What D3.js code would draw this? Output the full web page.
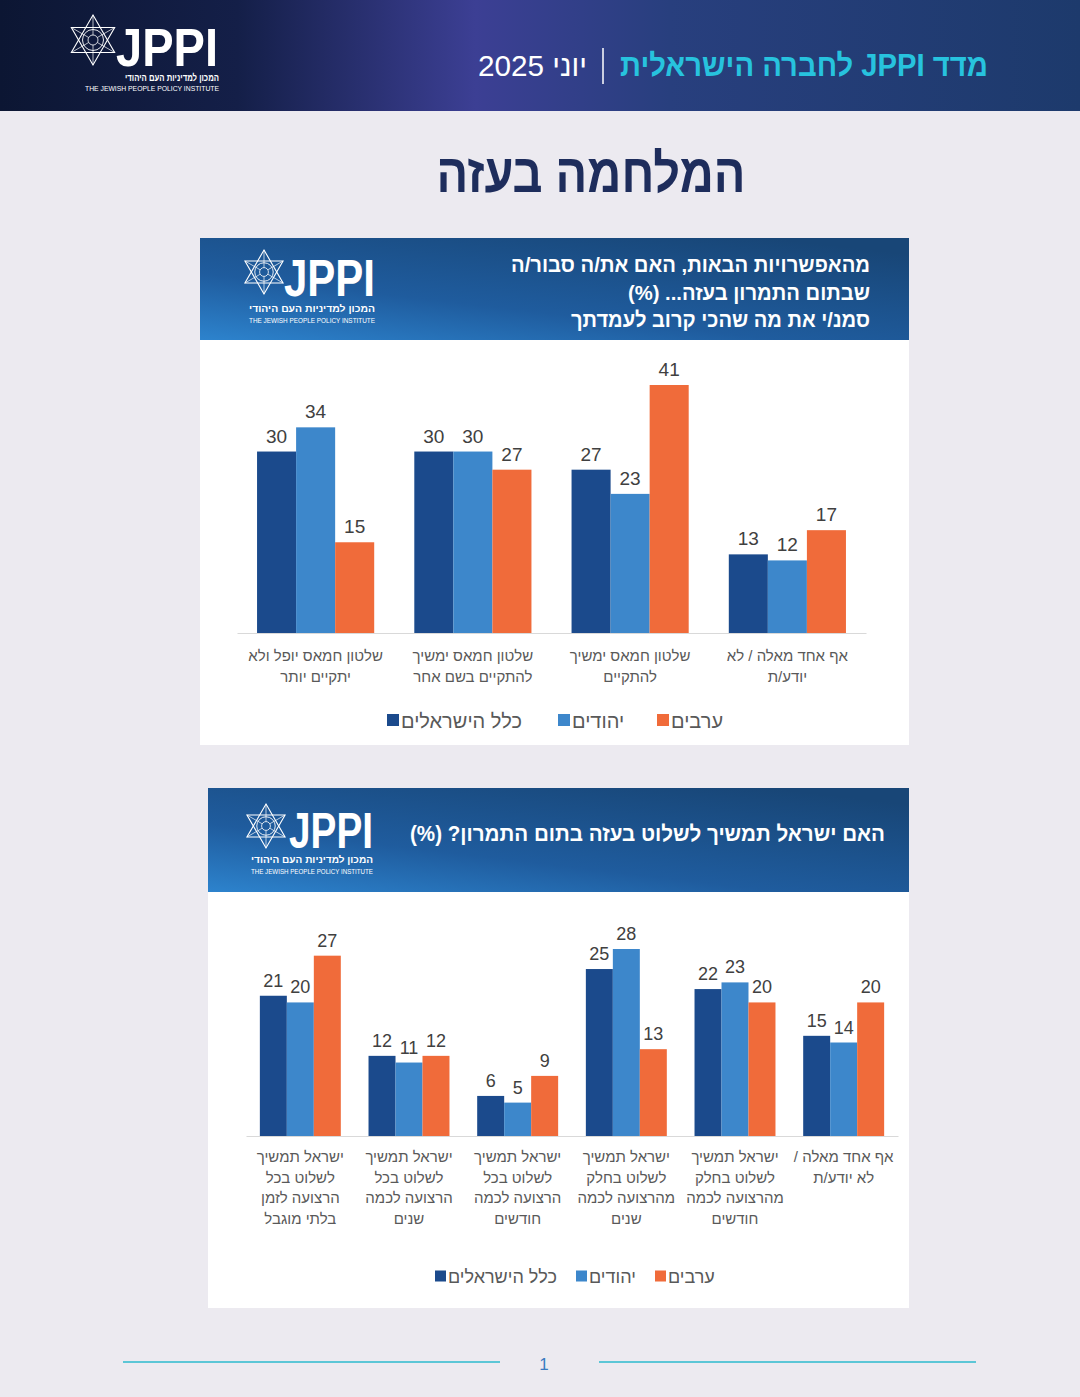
<!DOCTYPE html>
<html>
<head>
<meta charset="utf-8">
<script src="https://cdn.jsdelivr.net/npm/d3@7"></script>
<style>
  body { margin: 0; background: #ECEAF0; }
  svg { display: block; }
  text { font-family: "Liberation Sans", "DejaVu Sans", sans-serif; }
</style>
</head>
<body>
<div id="content"></div>
<script>
// series (left to right inside each group)
var seriesNames = ["כלל הישראלים", "יהודים", "ערבים"];
var seriesColors = ["#1B4A8C", "#3D87CB", "#F06B3A"];

// chart 1 - categories in reading order (right to left)
var cat1 = [
  ["אף אחד מאלה / לא", "יודע/ת"],
  ["שלטון חמאס ימשיך", "להתקיים"],
  ["שלטון חמאס ימשיך", "להתקיים בשם אחר"],
  ["שלטון חמאס יופל ולא", "יתקיים יותר"]
];
var all1 = [13, 27, 30, 30];
var jews1 = [12, 23, 30, 34];
var arabs1 = [17, 41, 27, 15];

// chart 2 - categories in reading order (right to left)
var cat2 = [
  ["אף אחד מאלה /", "לא יודע/ת"],
  ["ישראל תמשיך", "לשלוט בחלק", "מהרצועה לכמה", "חודשים"],
  ["ישראל תמשיך", "לשלוט בחלק", "מהרצועה לכמה", "שנים"],
  ["ישראל תמשיך", "לשלוט בכל", "הרצועה לכמה", "חודשים"],
  ["ישראל תמשיך", "לשלוט בכל", "הרצועה לכמה", "שנים"],
  ["ישראל תמשיך", "לשלוט בכל", "הרצועה לזמן", "בלתי מוגבל"]
];
var all2 = [15, 22, 25, 6, 12, 21];
var jews2 = [14, 23, 28, 5, 11, 20];
var arabs2 = [20, 20, 13, 9, 12, 27];

var width = 1080, height = 1397;

var svg = d3.select("#content").append("svg")
  .attr("width", width)
  .attr("height", height);

var defs = svg.append("defs");

var topGrad = defs.append("linearGradient").attr("id", "topGrad");
topGrad.append("stop").attr("offset", "0%").attr("stop-color", "#0C1633");
topGrad.append("stop").attr("offset", "22%").attr("stop-color", "#141F48");
topGrad.append("stop").attr("offset", "44%").attr("stop-color", "#3C3F94");
topGrad.append("stop").attr("offset", "62%").attr("stop-color", "#283F7E");
topGrad.append("stop").attr("offset", "100%").attr("stop-color", "#1D3A6C");

var panelGrad = defs.append("linearGradient").attr("id", "panelGrad")
  .attr("x1", 0).attr("y1", 1).attr("x2", 0.8).attr("y2", 0);
panelGrad.append("stop").attr("offset", "0%").attr("stop-color", "#2D83CD");
panelGrad.append("stop").attr("offset", "40%").attr("stop-color", "#1F5C9E");
panelGrad.append("stop").attr("offset", "100%").attr("stop-color", "#184677");

// page header
svg.append("rect").attr("x", 0).attr("y", 0).attr("width", width).attr("height", 111)
  .attr("fill", "url(#topGrad)");

svg.append("text")
  .attr("x", 988).attr("y", 76)
  .attr("direction", "rtl").attr("text-anchor", "start")
  .attr("fill", "#27C3DE").attr("font-size", 31).attr("font-weight", "bold")
  .attr("textLength", 368).attr("lengthAdjust", "spacingAndGlyphs")
  .text("מדד JPPI לחברה הישראלית");
svg.append("line").attr("x1", 603).attr("x2", 603).attr("y1", 48).attr("y2", 84)
  .attr("stroke", "#ffffff").attr("stroke-width", 1.5);
svg.append("text")
  .attr("x", 587).attr("y", 76)
  .attr("direction", "rtl").attr("text-anchor", "start")
  .attr("fill", "#ffffff").attr("font-size", 30)
  .attr("font-family", "'DejaVu Sans', sans-serif").attr("font-weight", 200)
  .attr("textLength", 109).attr("lengthAdjust", "spacingAndGlyphs")
  .text("יוני 2025");

function drawLogo(g, cx, cy, r, jx, jy, jw, jsize, hb, eb) {
  // star of David
  var up = [0, 1, 2].map(function(i){ var a = -Math.PI/2 + i*2*Math.PI/3; return [cx + r*Math.cos(a), cy + r*Math.sin(a)]; });
  var dn = [0, 1, 2].map(function(i){ var a = Math.PI/2 + i*2*Math.PI/3; return [cx + r*Math.cos(a), cy + r*Math.sin(a)]; });
  var line = d3.line();
  g.append("path").attr("d", line(up) + "Z").attr("fill", "none").attr("stroke", "#fff").attr("stroke-width", 1.1);
  g.append("path").attr("d", line(dn) + "Z").attr("fill", "none").attr("stroke", "#fff").attr("stroke-width", 1.1);
  g.append("circle").attr("cx", cx).attr("cy", cy).attr("r", r*0.42).attr("fill", "none").attr("stroke", "#fff").attr("stroke-width", 0.9);
  g.append("circle").attr("cx", cx).attr("cy", cy).attr("r", r*0.2).attr("fill", "none").attr("stroke", "#fff").attr("stroke-width", 0.8);
  up.concat(dn).forEach(function(p){
    g.append("line").attr("x1", p[0]).attr("y1", p[1]).attr("x2", cx + (p[0]-cx)*0.2).attr("y2", cy + (p[1]-cy)*0.2)
      .attr("stroke", "#fff").attr("stroke-width", 0.7);
  });
  g.append("text").attr("x", jx).attr("y", jy)
    .attr("font-family", "'DejaVu Sans Condensed', 'DejaVu Sans', sans-serif")
    .attr("font-weight", "bold").attr("font-size", jsize).attr("fill", "#fff")
    .attr("textLength", jw).attr("lengthAdjust", "spacingAndGlyphs")
    .text("JPPI");
  g.append("text").attr("x", hb[0]).attr("y", hb[1])
    .attr("direction", "rtl").attr("text-anchor", "start")
    .attr("font-weight", "bold").attr("font-size", hb[2]).attr("fill", "#fff")
    .attr("textLength", hb[3]).attr("lengthAdjust", "spacingAndGlyphs")
    .text("המכון למדיניות העם היהודי");
  g.append("text").attr("x", eb[0] - eb[3]).attr("y", eb[1])
    .attr("font-family", "'DejaVu Sans Condensed', sans-serif")
    .attr("font-size", eb[2]).attr("fill", "#fff")
    .attr("textLength", eb[3]).attr("lengthAdjust", "spacingAndGlyphs")
    .text("THE JEWISH PEOPLE POLICY INSTITUTE");
}

drawLogo(svg.append("g"), 93, 40, 25, 116, 66, 102, 54, [219, 81, 10, 94], [219, 91, 7.5, 134]);

// main title
svg.append("text")
  .attr("x", 591).attr("y", 192)
  .attr("text-anchor", "middle")
  .attr("font-family", "'Open Sans', 'DejaVu Sans', sans-serif")
  .attr("font-weight", 600)
  .attr("font-size", 54).attr("fill", "#1E2D5C")
  .attr("textLength", 309).attr("lengthAdjust", "spacingAndGlyphs")
  .text("המלחמה בעזה");

function drawPanel(cfg) {
  var g = svg.append("g");
  g.append("rect").attr("x", cfg.x).attr("y", cfg.y).attr("width", cfg.w).attr("height", cfg.h).attr("fill", "#ffffff");
  g.append("rect").attr("x", cfg.x).attr("y", cfg.y).attr("width", cfg.w).attr("height", cfg.headH).attr("fill", "url(#panelGrad)");

  cfg.titleLines.forEach(function(t, i){
    g.append("text")
      .attr("x", cfg.titleX).attr("y", cfg.titleY + i*cfg.titleStep)
      .attr("direction", "rtl").attr("text-anchor", "start")
      .attr("font-weight", "bold").attr("font-size", cfg.titleSize).attr("fill", "#ffffff")
      .attr("textLength", cfg.titleW[i]).attr("lengthAdjust", "spacingAndGlyphs")
      .text(t);
  });
  drawLogo(g, cfg.logo.cx, cfg.logo.cy, cfg.logo.r, cfg.logo.jx, cfg.logo.jy, cfg.logo.jw, cfg.logo.js,
    cfg.logo.hb, cfg.logo.eb);

  var data = cfg.cats.map(function(c, i){
    return {cat: i, lines: c, vals: [cfg.all[i], cfg.jews[i], cfg.arabs[i]]};
  });

  var x0 = d3.scaleBand().domain(d3.range(cfg.cats.length))
    .range([cfg.axisR, cfg.axisL])
    .paddingInner(0.255).paddingOuter(0.1275);
  var x1 = d3.scaleBand().domain(d3.range(seriesNames.length))
    .range([0, x0.bandwidth()]);
  var maxV = d3.max(data, function(d){ return d3.max(d.vals); });
  var y = d3.scaleLinear().domain([0, maxV]).range([cfg.base, cfg.top]);

  var groups = g.selectAll(".grp").data(data).enter().append("g")
    .attr("transform", function(d){ return "translate(" + x0(d.cat) + ",0)"; });

  groups.selectAll("rect").data(function(d){ return d.vals.map(function(v, k){ return {k: k, v: v}; }); })
    .enter().append("rect")
    .attr("x", function(d){ return x1(d.k); })
    .attr("width", x1.bandwidth())
    .attr("y", function(d){ return y(d.v); })
    .attr("height", function(d){ return y(0) - y(d.v); })
    .attr("fill", function(d){ return seriesColors[d.k]; });

  groups.selectAll(".val").data(function(d){ return d.vals.map(function(v, k){ return {k: k, v: v}; }); })
    .enter().append("text")
    .attr("x", function(d){ return x1(d.k) + x1.bandwidth()/2; })
    .attr("y", function(d){ return y(d.v) - 9; })
    .attr("text-anchor", "middle")
    .attr("font-family", "'Open Sans', 'Liberation Sans', sans-serif")
    .attr("font-size", cfg.valSize).attr("fill", "#404040")
    .text(function(d){ return d.v; });

  var axis = d3.axisBottom(x0).tickSize(0).tickSizeOuter(0).tickFormat("");
  var ag = g.append("g").attr("transform", "translate(0," + cfg.base + ")").call(axis);
  ag.select(".domain").attr("stroke", "#D9D9D9").attr("stroke-width", 1.2);

  groups.each(function(d){
    var gg = d3.select(this);
    d.lines.forEach(function(t, i){
      gg.append("text")
        .attr("x", x0.bandwidth()/2)
        .attr("y", cfg.labY + i*cfg.labStep)
        .attr("direction", "rtl")
        .attr("text-anchor", "middle")
        .attr("font-size", cfg.labSize).attr("fill", "#595959")
        .text(t);
    });
  });

  // legend
  cfg.legend.forEach(function(p, k){
    g.append("rect").attr("x", p).attr("y", cfg.legY - cfg.legSq/2 - 1).attr("width", cfg.legSq).attr("height", cfg.legSq)
      .attr("fill", seriesColors[k]);
    g.append("text").attr("x", p + cfg.legSq + 2).attr("y", cfg.legY + cfg.legSize*0.35)
      .attr("direction", "rtl").attr("text-anchor", "end")
      .attr("font-size", cfg.legSize).attr("fill", "#595959")
      .text(seriesNames[k]);
  });
}

drawPanel({
  x: 200, y: 238, w: 709, h: 507, headH: 102,
  titleLines: ["מהאפשרויות הבאות, האם את/ה סבור/ה", "שבתום התמרון בעזה... (%)", "סמנ/י את מה שהכי קרוב לעמדתך"],
  titleW: [359, 242, 299],
  titleX: 870, titleY: 272, titleStep: 27.5, titleSize: 21,
  logo: {cx: 264, cy: 272, r: 22, jx: 284, jy: 296, jw: 91, js: 52, hb: [375, 312, 9.5, 126], eb: [375, 323, 7, 126]},
  cats: cat1, all: all1, jews: jews1, arabs: arabs1,
  axisL: 237, axisR: 866, base: 633, top: 385,
  valSize: 19, labY: 661, labStep: 21, labSize: 15,
  legend: [387, 558, 657], legY: 721, legSq: 12, legSize: 20
});

drawPanel({
  x: 208, y: 788, w: 701, h: 520, headH: 104,
  titleLines: ["האם ישראל תמשיך לשלוט בעזה בתום התמרון? (%)"],
  titleW: [475],
  titleX: 885, titleY: 841, titleStep: 0, titleSize: 22,
  logo: {cx: 266, cy: 826, r: 22, jx: 289, jy: 848, jw: 84, js: 50, hb: [373, 863, 9.5, 122], eb: [373, 874, 7, 122]},
  cats: cat2, all: all2, jews: jews2, arabs: arabs2,
  axisL: 246, axisR: 898, base: 1136, top: 949,
  valSize: 18, labY: 1162, labStep: 20.5, labSize: 15,
  legend: [435, 576, 655], legY: 1277, legSq: 11, legSize: 18
});

// footer
svg.append("line").attr("x1", 123).attr("x2", 500).attr("y1", 1362).attr("y2", 1362)
  .attr("stroke", "#5CC6D6").attr("stroke-width", 2);
svg.append("line").attr("x1", 599).attr("x2", 976).attr("y1", 1362).attr("y2", 1362)
  .attr("stroke", "#5CC6D6").attr("stroke-width", 2);
svg.append("text").attr("x", 544).attr("y", 1370).attr("text-anchor", "middle")
  .attr("font-size", 17).attr("fill", "#3A7AC0").text("1");
</script>
</body>
</html>
